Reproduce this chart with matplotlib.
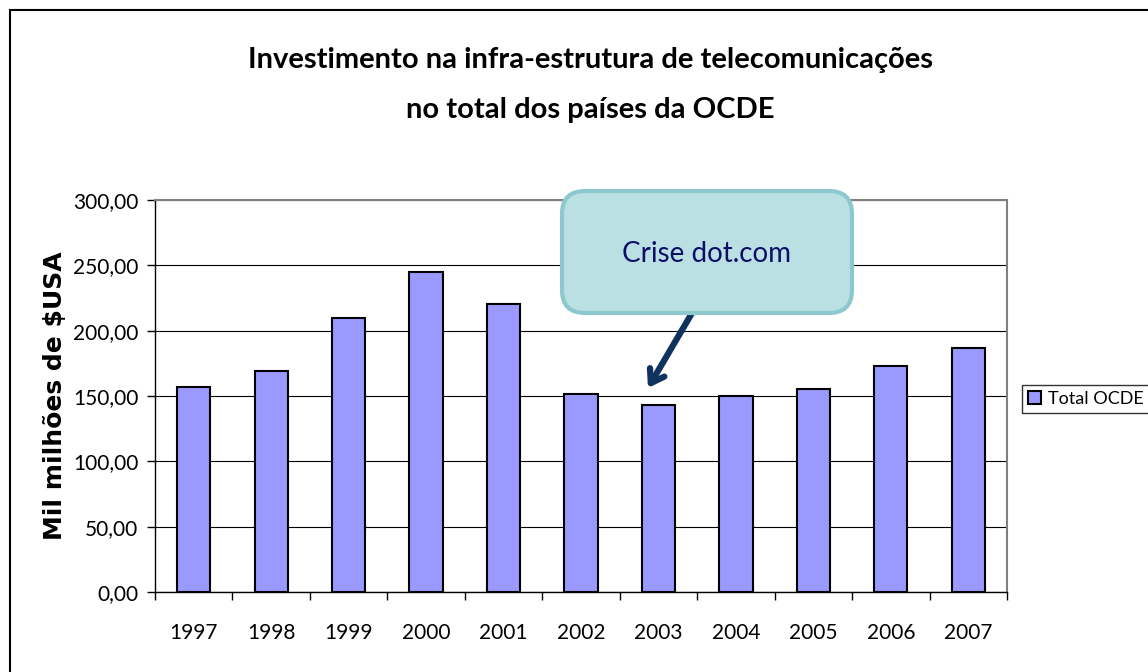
import matplotlib
matplotlib.use('Agg')
import matplotlib.pyplot as plt
from matplotlib.patches import FancyBboxPatch, Rectangle
from matplotlib.ticker import FixedLocator, FuncFormatter

years = ['1997', '1998', '1999', '2000', '2001', '2002',
         '2003', '2004', '2005', '2006', '2007']
total_ocde = [157.0, 169.5, 209.7, 244.9, 220.4, 151.5,
              143.0, 150.0, 155.4, 173.0, 186.7]

plt.rcParams['font.family'] = ['Lato', 'DejaVu Sans']

fig = plt.figure(figsize=(11.48, 6.72), dpi=100)
ax = fig.add_axes([155/1148, 80/672, 852/1148, 392/672])

# bars
x = range(len(years))
bars = ax.bar(x, total_ocde, width=0.43, color='#9999ff',
              edgecolor='black', linewidth=1.5, zorder=2)

ax.set_xlim(-0.5, len(years) - 0.5)
ax.set_ylim(0, 300)
ax.set_yticks(range(0, 301, 50))
ax.yaxis.set_major_formatter(FuncFormatter(lambda v, p: f'{v:.2f}'.replace('.', ',')))
ax.set_xticks(list(x))
ax.set_xticklabels(years)
ax.xaxis.set_minor_locator(FixedLocator([i - 0.5 for i in range(len(years) + 1)]))

ax.tick_params(axis='x', which='major', length=0, pad=22, labelsize=15)
ax.tick_params(axis='x', which='minor', length=6, width=1, color='black', direction='out')
ax.tick_params(axis='y', length=6, width=1, direction='out', pad=6, labelsize=15)

ax.set_axisbelow(True)
ax.yaxis.grid(True, color='black', linewidth=0.8)
for s in ['left', 'bottom']:
    ax.spines[s].set_color('black')
    ax.spines[s].set_linewidth(1.0)
for s in ['top', 'right']:
    ax.spines[s].set_color('#808080')
    ax.spines[s].set_linewidth(1.5)

# title and axis label
fig.text(590/1148, 1 - 60/672, 'Investimento na infra-estrutura de telecomunicações',
         ha='center', va='center', fontsize=21, fontweight='bold')
fig.text(590/1148, 1 - 110/672, 'no total dos países da OCDE',
         ha='center', va='center', fontsize=21, fontweight='bold')
fig.text(55/1148, 1 - 396/672, 'Mil milhões de $USA', rotation=90,
         ha='center', va='center', fontsize=18, fontweight='bold',
         family=['DejaVu Sans'])

# callout
box = FancyBboxPatch((562/1148, 1 - 313/672), 290/1148, 122/672,
                     boxstyle='round,pad=0,rounding_size=0.02',
                     mutation_aspect=1148/672,
                     transform=fig.transFigure, facecolor='#bbe0e3',
                     edgecolor='#8ec8cf', linewidth=3, zorder=5)
fig.add_artist(box)
fig.text(707/1148, 1 - 254/672, 'Crise dot.com', ha='center', va='center',
         fontsize=20, color='#0c0f66', zorder=6)
ax.annotate('', xy=(648/1148, 1 - 388/672), xycoords='figure fraction',
            xytext=(692/1148, 1 - 313/672), textcoords='figure fraction',
            arrowprops=dict(arrowstyle='->,head_length=0.9,head_width=0.6',
                            color='#0f335e', lw=4.5, shrinkA=0, shrinkB=0),
            zorder=6, annotation_clip=False)

# legend
handle = Rectangle((0, 0), 1, 1, facecolor='#9999ff', edgecolor='black', linewidth=1.5)
leg = fig.legend([handle], ['Total OCDE'], loc='center left',
                 bbox_to_anchor=(1022/1148, 1 - 399/672), fontsize=13,
                 frameon=True, fancybox=False, handlelength=0.7, handleheight=0.7,
                 handletextpad=0.4, borderpad=0.35, borderaxespad=0)
leg.get_frame().set_edgecolor('black')
leg.get_frame().set_linewidth(1.0)

# outer frame
fig.add_artist(Rectangle((10/1148, -0.1), 1.2, 1.1 - 10/672, fill=False,
                         edgecolor='black', linewidth=1.5,
                         transform=fig.transFigure, clip_on=False))

fig.savefig('out.png', dpi=100)
